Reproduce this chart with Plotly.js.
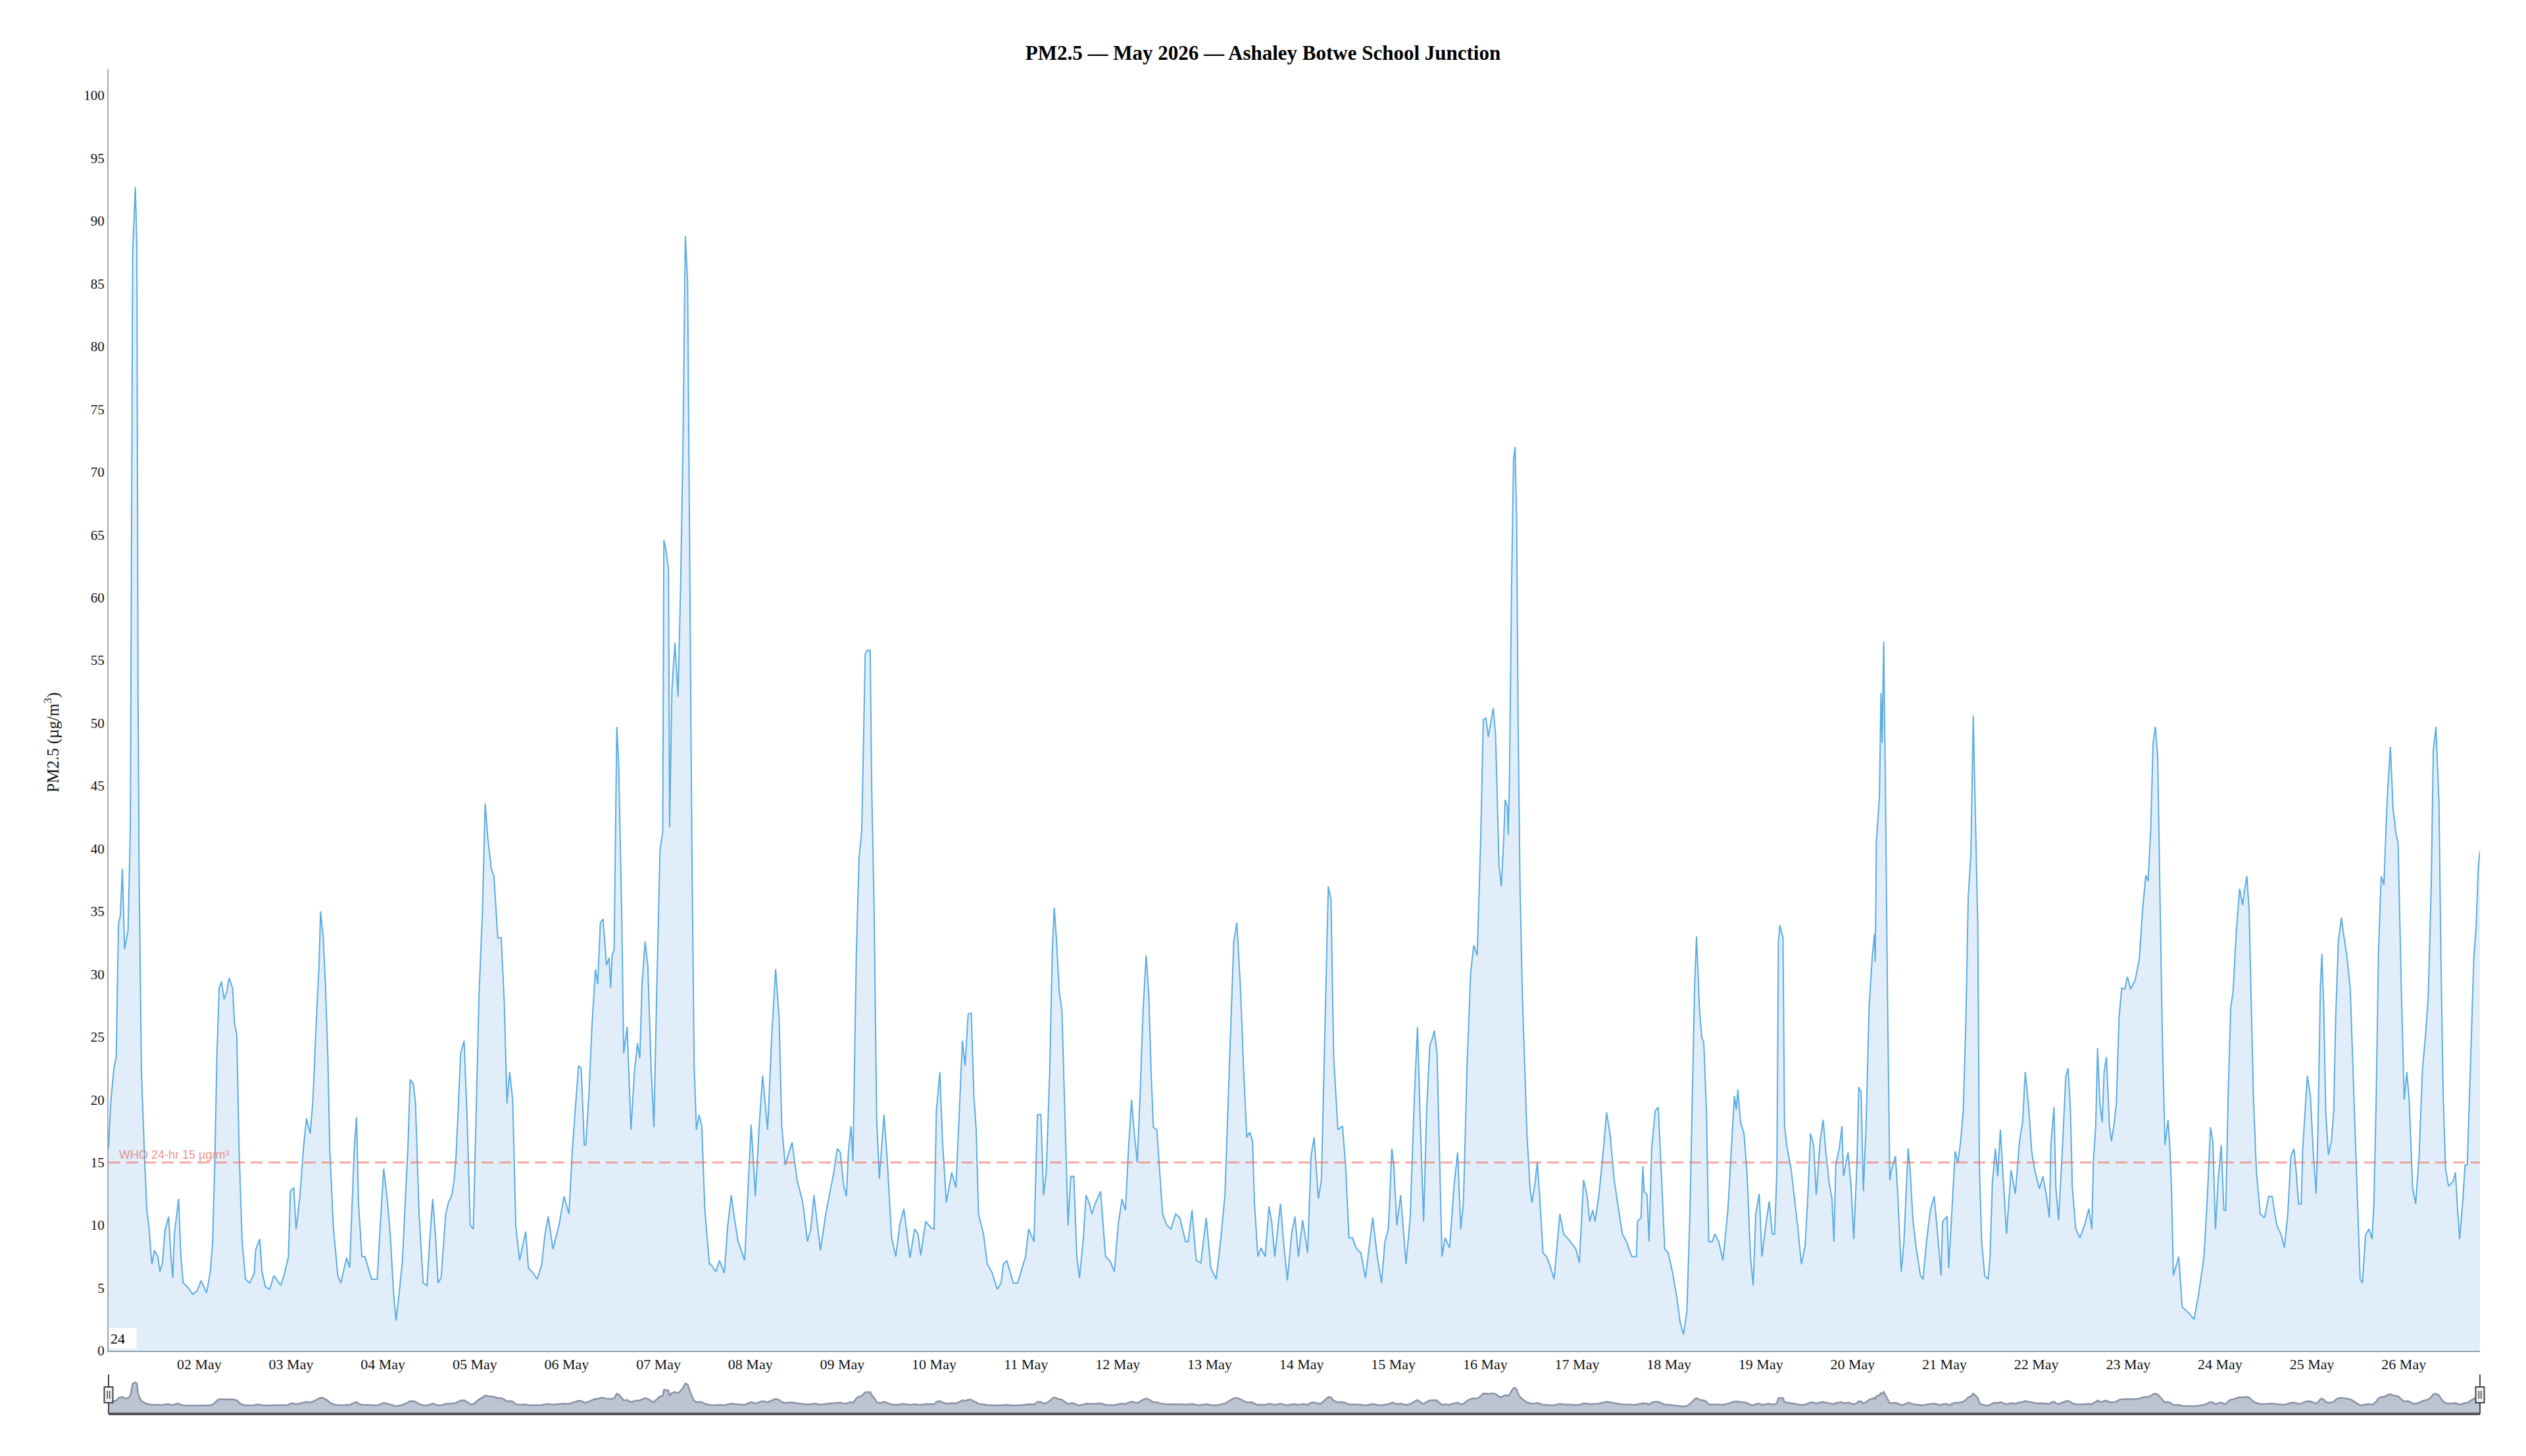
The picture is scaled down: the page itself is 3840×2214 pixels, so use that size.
<!DOCTYPE html>
<html>
<head>
<meta charset="utf-8">
<script src="https://cdn.plot.ly/plotly-3.0.1.min.js"></script>
<style>
html,body{margin:0;padding:0;background:#fff;}
#chart{width:3840px;height:2214px;}
</style>
</head>
<body>
<div id="chart"></div>
<script>
// ---- DATA ----
// hours after 2026-05-01 00:00, and PM2.5 readings (µg/m³)
const hoursA = [0.3,0.85,1.7,2.3,2.9,3.4,3.9,4.5,5.4,6.0,6.6,7.3,7.7,8.0,8.3,8.9,9.7,10.3,10.9,11.6,12.3,13.2,13.7,14.4,15.0,16.0,16.6,17.1,17.5,18.6,19.2,19.8,20.9,22.3,23.5,24.5,25.9,26.9,27.5,28.1,28.6,29.2,29.8,30.5,31.2,31.8,32.7,33.2,33.8,34.4,35.2,36.1,37.2,38.4,38.7,39.8,40.4,41.3,42.4,43.5,45.3,46.4,47.3,47.8,48.7,49.3,49.8,50.4,51.3,52.0,53.0,53.7,54.7,55.3,55.7,56.4,57.0,57.6,58.1,59.0,60.2,61.0,61.9,62.5,63.3,63.9,64.5,65.1,65.6,66.5,67.3,69.0,70.5,71.3,72.2,73.1,73.9,74.8,75.4,76.2,77.1,77.9,78.5];
const pmA = [16.1,19.7,22.5,23.4,34,34.7,38.4,32,33.5,41.7,87.5,92.7,88,52.7,37.4,22.2,15.5,11.2,9.7,6.9,8.0,7.5,6.3,7.0,9.5,10.7,7.5,5.8,9.3,12.1,7.5,5.4,5.1,4.5,4.8,5.6,4.6,6.3,8.7,15.5,23.4,28.9,29.4,28.0,28.6,29.7,28.9,26.1,25.2,16.1,8.7,5.7,5.4,6.2,8.0,8.9,6.3,5.1,4.9,6.0,5.2,6.3,7.5,12.7,13.0,9.7,10.9,12.7,16.4,18.5,17.3,20.0,27.1,30.7,35.0,32.9,28.9,23.4,16.1,10.0,6.0,5.4,6.6,7.4,6.6,11.8,16.1,18.6,11.8,7.5,7.5,5.7,5.7,10.0,14.5,12.1,9.3,4.5,2.4,4.5,7.2,12.4,16.0];

const hoursB = [79.1,79.9,80.5,81.4,82.5,83.5,84.2,85.0,85.7,86.4,87.2,88.4,89.1,90.0,90.6,91.1,92.3,93.2,94.0,94.8,95.6,96.3,97.1,98.0,98.7,99.4,100.3,101.0,102.0,102.9,103.7,104.4,105.1,105.9,106.7,107.7,109.3,110.0,111.2,112.3,113.5,114.3,115.2,116.4,118.0,119.3,120.6,121.5,122.3,123.1,123.8,124.6,125.0,125.8,126.6,127.5,128.1,128.8,129.5,130.4,131.1,131.5,131.9,132.4,133.1,133.6,134.4,134.9,135.8,136.8,137.7,138.5,139.1,139.7,140.5,141.2,142.1,142.8,143.5,144.4,145.1,145.4,146.0,146.6,146.9,147.5,148.3,149.1,149.8,150.4,151.0,151.6,152.1,152.7,153.3,153.9,154.6,155.3,156.1,157.3];
const pmB = [21.6,21.3,19.7,11.2,5.4,5.2,8.7,12.1,9.3,5.4,5.8,10.9,11.8,12.4,13.6,15.5,23.7,24.7,18.5,10.0,9.7,18.5,28.3,35.0,43.6,40.8,38.4,37.8,32.9,32.9,27.7,19.7,22.2,20.0,10.0,7.2,9.5,6.6,6.2,5.7,6.9,9.2,10.7,8.1,10.0,12.3,10.9,16.1,19.4,22.7,22.5,16.4,16.4,20.3,25.8,30.4,29.2,34.1,34.4,30.7,31.3,28.9,31.6,31.9,49.7,46.6,34.4,23.7,25.8,17.6,22.2,24.5,23.3,29.2,32.6,30.7,22.2,17.8,28.3,39.9,41.4,64.6,63.7,62.2,41.7,52.7,56.4,52.1,61.3,72.3,88.8,85.1,64.9,40.5,22.8,17.6,18.8,17.9,11.2,6.9];

const hoursC = [157.6,159.0,159.9,161.2,162.1,163.0,163.8,164.8,166.5,167.3,168.2,169.3,170.3,171.2,172.5,173.6,174.6,175.5,176.2,177.1,178.1,178.9,180.2,181.7,182.9,183.8,184.6,185.4,186.3,187.7,188.8,189.8,190.7,191.5,192.3,193.1,193.6,194.3,194.8,195.7,196.4,197.1,198.0,198.6,199.3,199.7,200.3,201.0,201.7,202.9,203.7,204.9,206.0,207.0,208.1,208.9,209.7,210.9,211.8,212.5,213.8,215.2,216.0,216.6,217.5,218.2,219.2,220.6,221.7,222.6,223.4,224.1,224.9,225.7,226.4,227.0,227.6,228.9,229.9,231.2,232.5,233.5,234.1,235.0,236.4];
const pmC = [6.9,6.3,7.2,6.2,10.0,12.4,10.6,8.7,7.2,12.4,18.0,12.3,17.9,21.9,17.6,25.2,30.4,26.5,17.9,14.8,15.8,16.6,13.6,11.8,8.7,9.7,12.4,10.3,8.0,10.9,12.7,14.2,16.1,15.8,13.3,12.3,15.8,17.9,15.1,31.9,39.3,41.4,55.5,55.8,55.8,44.8,35.6,18.5,13.7,18.8,15.5,9.0,7.5,10.0,11.3,9.3,7.4,9.7,9.3,7.6,10.3,9.8,9.7,19.1,22.2,16.7,11.8,14.2,13.0,19.1,24.7,22.7,26.8,26.9,20.3,17.6,10.9,9.3,6.9,6.2,4.9,5.4,6.9,7.2,5.7];

const hoursD = [236.7,237.8,239.0,239.9,240.7,242.1,243.0,243.9,244.6,245.3,246.2,246.9,247.4,248.0,248.7,249.4,250.2,251.0,251.7,252.5,253.3,254.0,255.0,255.7,256.5,257.2,258.2,259.5,260.8,261.9,263.1,264.1,265.1,266.0,266.8,267.6,268.3,269.1,269.9,270.6,271.4,272.1,272.7,273.3,274.2,275.0,275.7,276.8,277.9,279.1,280.2,281.7,282.4,283.4,284.5,285.7,287.1,288.3,289.7,290.9,292.0,293.1,294.3,295.1,296.0,296.9,297.7,298.5,299.2,299.7,300.6,301.4,302.5,303.5,304.2,305.0,306.5,307.3,308.3,309.4,310.3,311.2,312.3,313.6,314.5,315.3];
const pmD = [5.4,5.4,6.6,7.5,9.7,8.7,18.8,18.8,12.4,14.2,22.2,31.9,35.3,32.6,28.6,27.1,18.5,10.0,13.9,13.9,7.5,5.8,9.0,12.4,11.8,10.9,11.8,12.7,7.5,7.2,6.3,10.0,12.1,11.2,16.1,20.0,17.3,15.0,21.0,27.1,31.5,28.3,22.2,17.8,17.6,14.2,10.9,10.0,9.7,10.9,10.6,8.7,8.7,11.2,7.2,7.0,10.6,6.6,5.7,8.9,12.4,22.2,32.6,34.1,29.2,22.2,17.0,17.4,16.7,11.8,7.5,8.2,7.5,11.5,10.3,7.5,11.7,8.7,5.6,9.3,10.7,7.5,10.4,7.8,15.5,17.0];

const hoursE = [315.8,316.4,317.2,318.1,319.0,319.7,320.4,321.0,321.5,322.7,323.5,324.4,325.3,326.4,327.5,328.7,330.6,331.8,332.9,333.8,334.7,335.6,336.1,336.9,337.9,339.3,340.4,341.5,342.3,343.0,343.9,344.7,345.5,346.2,346.7,347.4,348.2,348.7,349.5,350.7,351.9,352.8,353.6,354.3,355.3,356.2,357.0,357.9,358.8,359.5,360.2,360.8,361.6,362.1,362.7,363.2,363.6,364.2,364.8,365.2,365.8,366.0,366.3,366.9,367.4,367.8,368.2,368.6,369.1,369.7,370.2,370.9,371.7,372.2,373.0,373.6,374.2,375.1,376.0,376.8,378.0,378.8,379.5,380.5,381.7,383.0,383.7,384.6,385.7,386.6,387.3,388.1,388.7,389.7,390.9,391.7,392.6,393.7,394.9];
const pmE = [14.5,12.1,13.6,25.2,37.0,35.9,23.4,20.3,17.6,17.9,14.8,9.0,9.0,8.1,7.8,5.8,10.6,7.5,5.4,8.7,9.7,16.1,14.8,10.0,12.4,6.9,10.6,20.3,25.8,18.5,10.3,19.1,24.3,24.9,25.5,23.7,13.0,7.5,9.0,8.2,13.3,15.8,9.7,11.8,23.1,30.1,32.3,31.5,40.5,50.3,50.4,48.9,50.3,51.2,49.1,43.6,38.7,37.0,40.5,43.9,43.3,41.1,44.8,61.3,71.0,72.0,66.2,49.7,36.8,28.3,23.4,17.3,13.0,11.8,13.3,15.0,12.4,7.8,7.5,6.9,5.7,8.4,10.9,9.3,8.9,8.4,8.1,7.0,13.6,12.4,10.3,11.2,10.3,12.4,16.1,19.0,17.3,13.6,11.0];

const hoursF = [395.8,396.9,398.3,399.5,399.8,400.7,401.2,401.5,402.3,402.8,403.5,404.4,405.2,406.1,406.9,407.8,408.9,410.1,410.9,411.8,412.7,413.5,414.3,414.7,415.2,416.0,416.6,417.1,417.8,418.4,419.3,420.0,421.0,422.1,422.7,423.4,423.8,424.4,425.1,425.6,426.0,426.7,427.6,428.4,429.3,430.0,430.7,431.6,432.3,433.3,434.2,435.0,435.6,436.2,436.6,437.0,437.8,438.2,438.9,439.9,440.7,441.6,442.6,443.6,444.3,445.0,445.8,446.5,447.5,448.3,449.0,449.9,450.6,451.1,451.6,452.5,453.2,453.6,454.8,455.6,456.3,457.1,457.6,458.2,458.8,459.5,460.3,461.1,461.7,461.9,462.2,463.0,463.4,463.7,464.1,464.5,465.1,465.7,466.2,467.2,467.8,468.7,469.4,470.0,470.5,471.0,471.7,472.5,473.7];
const pmF = [9.3,8.7,7.5,7.5,10.3,10.6,14.7,12.7,12.4,8.7,16.1,19.1,19.4,13.6,8.1,7.8,6.3,4.2,2.3,1.3,3.2,11.2,22.2,28.9,33.0,27.1,24.9,24.6,19.1,8.7,8.7,9.3,8.7,7.2,9.0,11.2,13.3,16.7,20.3,19.2,20.8,18.2,17.3,14.2,7.5,5.2,10.9,12.5,7.5,10.0,11.9,9.3,9.3,14.2,32.6,33.9,32.9,17.9,16.1,14.5,12.4,10.0,6.9,8.4,12.4,17.3,16.4,12.4,16.7,18.4,15.8,13.3,12.1,8.7,14.8,16.1,17.9,13.9,15.8,13.0,8.9,14.8,21.0,20.6,12.7,17.9,27.4,31.3,33.2,31.0,40.5,44.2,52.4,48.4,56.5,46.6,28.3,13.6,14.5,15.5,12.4,6.3,8.7,13.0,16.1,14.5,10.6,8.4,6.0];

const hoursG = [474.4,475.3,476.3,477.3,478.2,479.1,479.5,480.7,481.1,481.9,482.8,483.5,484.2,484.9,485.6,486.2,486.9,487.5,488.1,488.7,489.1,489.7,490.5,491.4,491.9,492.5,493.3,493.9,494.6,495.4,496.2,497.4,498.5,499.6,500.4,501.1,502.0,502.8,503.7,504.8,505.7,506.6,507.4,507.8,508.6,509.1,509.8,510.9,511.7,512.3,512.9,513.4,514.3,515.4,516.6,517.7,518.5,518.9,519.5,520.0,520.6,521.2,521.7,522.3,523.1,523.6,524.3,524.9,525.6,526.3,527.1,527.8,528.6,529.8,530.9,531.8,532.6,533.2,533.9,534.5,535.1,535.7,536.4,536.9,537.6,538.4,538.9,539.3,539.8,541.2,542.1,543.2,544.1,545.2,546.4,547.8,548.7,549.5,550.1,550.8,551.5,552.3];
const pmG = [5.7,8.7,11.2,12.3,9.3,6.0,10.3,10.7,6.6,11.2,15.9,15.0,16.6,19.1,26.5,36.2,39.6,50.6,42.3,33.8,14.8,8.7,6.0,5.7,7.5,13.3,16.1,13.9,17.6,13.6,9.3,14.4,12.5,16.7,18.2,22.2,19.4,15.8,14.2,12.9,13.9,12.4,10.6,16.4,19.4,13.0,10.4,16.7,21.9,22.5,19.1,13.0,9.7,9.0,10.0,11.3,9.7,15.1,17.9,24.1,19.7,18.2,22.2,23.4,17.9,16.7,18.0,19.7,26.5,28.9,28.8,29.8,28.8,29.5,31.2,35.3,37.9,37.4,41.7,48.4,49.7,47.2,35.6,25.2,16.4,18.4,16.1,13.0,6.0,7.5,3.5,3.2,2.9,2.5,4.5,7.5,12.4,17.8,16.7,9.7,13.6,16.4];

const hoursH = [553.0,553.5,554.1,554.8,555.4,556.2,557.1,557.9,558.4,559.0,559.6,560.2,560.7,561.5,562.5,563.6,564.7,565.6,566.8,567.9,568.8,569.7,570.5,571.3,571.9,572.5,573.2,573.6,574.2,574.8,575.6,576.4,577.1,577.6,578.2,578.6,579.1,579.6,580.3,581.1,581.7,582.2,582.9,583.7,584.4,585.1,586.0,586.8,587.5,588.1,588.6,589.2,590.0,590.9,591.7,592.2,592.8,593.4,594.1,594.8,595.7,596.5,597.2,598.0,598.5,599.4,600.1,600.8,601.4,602.3,603.1,604.0,604.9,605.7,606.4,607.2,607.7,608.4,609.2,609.7,610.3,610.9,611.7,612.9,613.5,614.0,614.6,615.5,616.0,616.6,617.2,617.8,618.3,618.9,619.5,619.9];
const pmH = [11.2,11.2,20.3,27.4,28.6,33.2,36.8,35.5,36.7,37.8,35.0,27.1,20.3,14.2,10.9,10.6,12.3,12.3,10.0,9.3,8.2,10.9,15.5,16.1,14.2,11.7,11.7,16.1,18.8,21.9,20.3,15.5,12.5,17.9,28.9,31.6,27.1,19.1,15.6,16.7,19.1,26.5,32.6,34.5,32.9,31.5,28.9,21.9,16.1,10.0,5.7,5.4,9.2,9.7,8.9,11.8,20.3,31.9,37.8,37.1,44.2,48.1,43.2,41.1,40.5,28.3,20.0,22.2,20.0,13.0,11.7,15.5,22.5,25.2,28.3,37.4,47.8,49.7,43.6,31.3,20.3,14.5,13.1,13.5,14.2,11.5,8.9,12.3,14.8,14.8,21.0,27.1,31.3,33.8,38.7,39.8];

const WHO_LIMIT = 15;
const WHO_LABEL = 'WHO 24-hr 15 µg/m³';
const TITLE = 'PM2.5 — May 2026 — Ashaley Botwe School Junction';
const Y_TITLE = 'PM2.5 (µg/m<sup>3</sup>)';
const CORNER_LABEL = '24';

// ---- build series ----
const hoursAll = [].concat(hoursA, hoursB, hoursC, hoursD, hoursE, hoursF, hoursG, hoursH);
const pmAll = [].concat(pmA, pmB, pmC, pmD, pmE, pmF, pmG, pmH);
const t0 = Date.UTC(2026, 4, 1, 0, 0, 0);
const times = hoursAll.map(h => new Date(t0 + Math.round(h * 3600000)).toISOString().slice(0, 19).replace('T', ' '));

// ---- geometry helpers (pixel -> paper fractions) ----
const W = 3840, H = 2214;
const fx = p => p / W;
const fy = p => 1 - p / H;
const L = 165, R = 3770, TOP = 105, BOT = 2054;
const NAV_TOP = 2090, NAV_BOT = 2150;

const serif = 'Liberation Serif, Times New Roman, serif';

const mainTrace = {
  x: times, y: pmAll, type: 'scatter', mode: 'lines',
  line: {color: '#5dade2', width: 2},
  fill: 'tozeroy', fillcolor: '#e1eefa',
  xaxis: 'x', yaxis: 'y', hoverinfo: 'x+y', showlegend: false
};
const navTrace = {
  x: times, y: pmAll, type: 'scatter', mode: 'lines',
  line: {color: '#8a93a6', width: 2.5},
  fill: 'tozeroy', fillcolor: 'rgba(160,169,189,0.7)',
  xaxis: 'x2', yaxis: 'y2', hoverinfo: 'skip', showlegend: false
};

const xr = [times[0], times[times.length - 1]];

function handle(xc) {
  return [
    {type: 'rect', xref: 'paper', yref: 'paper', x0: fx(xc - 6.5), x1: fx(xc + 6.5), y0: fy(2133), y1: fy(2109),
     fillcolor: '#f2f2f2', line: {color: '#444', width: 2}, layer: 'above'},
    {type: 'line', xref: 'paper', yref: 'paper', x0: fx(xc - 1.7), x1: fx(xc - 1.7), y0: fy(2127), y1: fy(2115),
     line: {color: '#444', width: 1.5}, layer: 'above'},
    {type: 'line', xref: 'paper', yref: 'paper', x0: fx(xc + 1.7), x1: fx(xc + 1.7), y0: fy(2127), y1: fy(2115),
     line: {color: '#444', width: 1.5}, layer: 'above'}
  ];
}

const layout = {
  width: W, height: H, autosize: false,
  margin: {l: 0, r: 0, t: 0, b: 0, pad: 0},
  paper_bgcolor: '#ffffff', plot_bgcolor: 'rgba(0,0,0,0)',
  font: {family: serif, color: '#111'},
  title: {
    text: '<b>' + TITLE + '</b>', xref: 'container', yref: 'container',
    x: 0.5, xanchor: 'center', y: fy(80), yanchor: 'middle',
    font: {family: serif, size: 31, color: '#000'}
  },
  xaxis: {
    domain: [fx(L), fx(R)], anchor: 'y', type: 'date', range: xr,
    tick0: '2026-05-01', dtick: 86400000, tickformat: '%d %b',
    showgrid: false, zeroline: false, showline: true, linecolor: '#97a2ae', linewidth: 2,
    ticks: '', tickfont: {family: serif, size: 22, color: '#111'}
  },
  yaxis: {
    domain: [fy(BOT), fy(TOP)], anchor: 'x', range: [0, 102.1],
    tick0: 0, dtick: 5, showgrid: false, zeroline: false,
    showline: true, linecolor: '#a3a9b0', linewidth: 2, ticks: '',
    tickfont: {family: serif, size: 21, color: '#111'}
  },
  xaxis2: {domain: [fx(L), fx(R)], anchor: 'y2', type: 'date', range: xr, visible: false},
  yaxis2: {domain: [fy(NAV_BOT), fy(NAV_TOP)], anchor: 'x2', range: [-27, 123], visible: false},
  shapes: [
    {type: 'line', xref: 'x domain', x0: 0, x1: 1, yref: 'y', y0: WHO_LIMIT, y1: WHO_LIMIT,
     line: {color: 'rgba(236,112,96,0.6)', width: 3, dash: '18px,9px'}, layer: 'above'},
    {type: 'rect', xref: 'x2 domain', x0: 0, x1: 1, yref: 'y2', y0: -27, y1: 0,
     fillcolor: 'rgba(160,169,189,0.7)', line: {width: 0}, layer: 'below'},
    {type: 'line', xref: 'x2 domain', x0: 0, x1: 1, yref: 'y2 domain', y0: 0, y1: 0,
     line: {color: '#555', width: 4}, layer: 'above'},
    {type: 'line', xref: 'x2 domain', x0: 0, x1: 0, yref: 'y2 domain', y0: 0, y1: 1,
     line: {color: '#444', width: 2}, layer: 'above'},
    {type: 'line', xref: 'x2 domain', x0: 1, x1: 1, yref: 'y2 domain', y0: 0, y1: 1,
     line: {color: '#444', width: 2}, layer: 'above'}
  ].concat(handle(L), handle(R)),
  annotations: [
    {xref: 'paper', x: fx(78), xanchor: 'center', yref: 'paper', y: fy(1129), yanchor: 'middle',
     text: Y_TITLE, textangle: -90, showarrow: false,
     font: {family: serif, size: 25, color: '#111'}},
    {xref: 'x domain', x: 0, xanchor: 'left', xshift: 14, yref: 'y', y: WHO_LIMIT, yanchor: 'bottom', yshift: 0,
     text: WHO_LABEL, showarrow: false,
     font: {family: 'Liberation Sans, Arial, sans-serif', size: 18, color: 'rgba(232,112,98,0.75)'}},
    {xref: 'x domain', x: 0, xanchor: 'left', xshift: 1, yref: 'y domain', y: 0, yanchor: 'bottom', yshift: 3,
     text: CORNER_LABEL, showarrow: false, bgcolor: '#ffffff', width: 38, height: 28, align: 'left',
     borderpad: 1, font: {family: serif, size: 22, color: '#000'}}
  ]
};

Plotly.newPlot('chart', [mainTrace, navTrace], layout, {displayModeBar: false, staticPlot: true});
</script>
</body>
</html>
